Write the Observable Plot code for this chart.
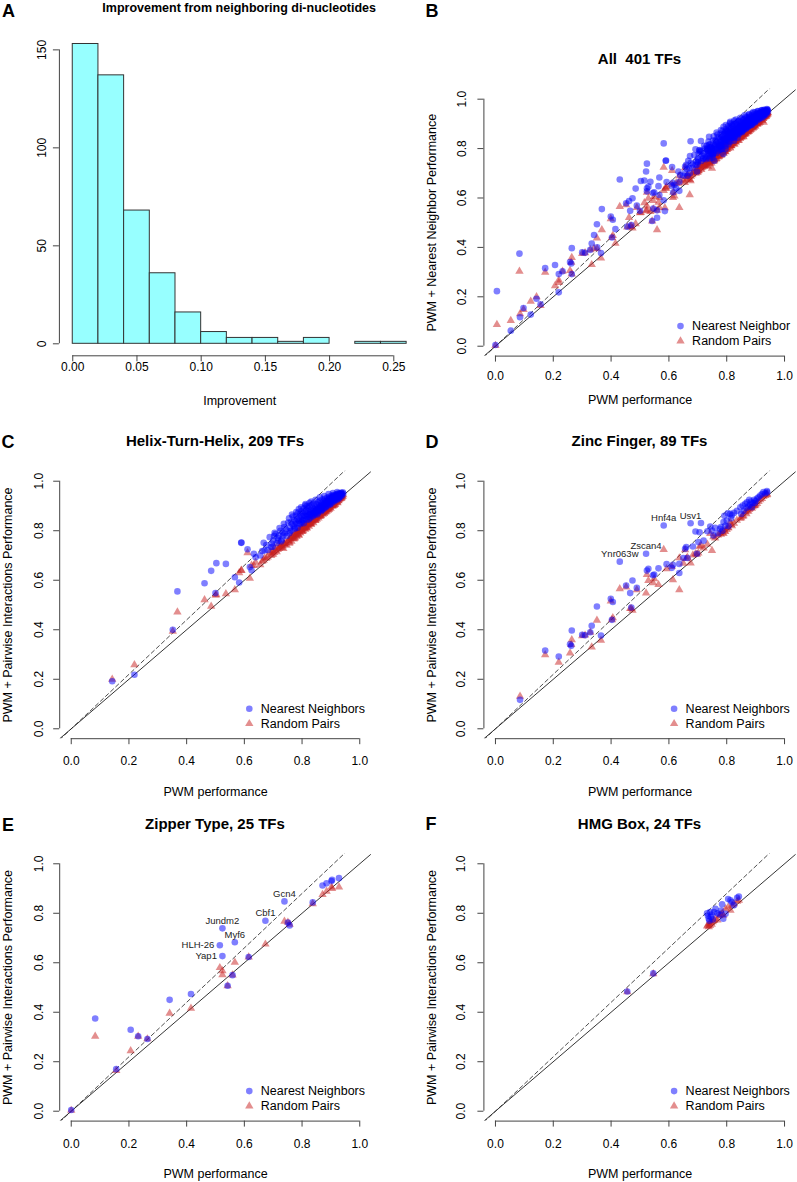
<!DOCTYPE html>
<html><head><meta charset="utf-8">
<script src="https://cdn.jsdelivr.net/npm/d3@7"></script>
<script src="https://cdn.jsdelivr.net/npm/@observablehq/plot@0.6"></script>
<style>
body{margin:0;background:#fff;}
#fig{position:relative;width:797px;height:1182px;overflow:hidden;background:#fff;font-family:"Liberation Sans",Arial,Helvetica,sans-serif;}
.panel{position:absolute;}
.lbl{position:absolute;transform:translate(-50%,-50%);white-space:pre;color:#000;font-weight:bold;line-height:normal;}
</style></head><body><div id="fig"></div>
<script>
// ---------- Panel A: histogram ----------
const histBreaks = [0,0.02,0.04,0.06,0.08,0.10,0.12,0.14,0.16,0.18,0.20,0.22,0.24,0.26];
const histCounts = [153,137,68,36,16,6,3,3,1,3,0,1,1];
const histXTicks = [0,0.05,0.10,0.15,0.20,0.25];
const histYTicks = [0,50,100,150];

// ---------- Scatter panels: [PWM, PWM + nearest neighbours, PWM + random pairs, label, labelPos] ----------
const axisRange = [0,1];
const xTicks = [0,0.2,0.4,0.6,0.8,1.0];
const yTicks = [0,0.2,0.4,0.6,0.8,1.0];
const dashSlope = 1.1;

const cPoints = [
[0.142,0.192,0.200],[0.219,0.218,0.258],[0.352,0.400,0.394],[0.368,0.555,0.471],[0.462,0.588,0.521],
[0.485,0.638,0.495],[0.503,0.669,0.541],[0.500,0.548,0.540],[0.536,0.666,0.545],[0.567,0.612,0.561],
[0.582,0.591,0.630],[0.589,0.751,0.639],[0.590,0.752,0.640],[0.611,0.725,0.711],[0.619,0.653,0.608],
[0.633,0.707,0.659],[0.639,0.693,0.672],[0.625,0.640,0.660],[0.667,0.751,0.680],[0.670,0.720,0.690],
[0.688,0.774,0.713],[0.693,0.734,0.700],[0.708,0.787,0.720],[0.700,0.760,0.705],[0.712,0.750,0.715],
[0.720,0.780,0.728],[0.725,0.800,0.735],[0.730,0.765,0.732],[0.737,0.828,0.748],[0.740,0.790,0.745],
[0.655,0.700,0.662],[0.662,0.718,0.676],[0.676,0.742,0.688],[0.681,0.722,0.694],[0.695,0.748,0.706],
[0.703,0.778,0.712],[0.716,0.771,0.724],[0.722,0.811,0.733],[0.728,0.757,0.741],[0.733,0.792,0.738],
[0.739,0.815,0.746],[0.698,0.735,0.718],[0.705,0.792,0.730],[0.718,0.760,0.745],[0.735,0.780,0.728],
[0.744,0.806,0.752],[0.747,0.779,0.741],[0.752,0.833,0.760],[0.756,0.790,0.749],[0.758,0.812,0.768],
[0.761,0.834,0.770],[0.763,0.801,0.757],[0.766,0.826,0.775],[0.768,0.857,0.779],[0.771,0.819,0.766],
[0.773,0.842,0.785],[0.775,0.808,0.772],[0.777,0.836,0.790],[0.779,0.861,0.781],[0.781,0.829,0.776],
[0.783,0.847,0.795],[0.784,0.812,0.787],[0.786,0.872,0.799],[0.788,0.840,0.783],[0.789,0.888,0.801],
[0.791,0.853,0.793],[0.793,0.826,0.806],[0.794,0.867,0.790],[0.796,0.845,0.812],[0.798,0.879,0.802],
[0.799,0.834,0.796],[0.801,0.858,0.815],[0.802,0.871,0.809],[0.804,0.842,0.800],[0.805,0.890,0.818],
[0.807,0.861,0.811],[0.808,0.848,0.823],[0.810,0.876,0.814],[0.811,0.903,0.806],[0.813,0.859,0.827],
[0.814,0.882,0.819],[0.816,0.845,0.812],[0.818,0.868,0.830],[0.819,0.893,0.821],[0.821,0.857,0.834],
[0.822,0.879,0.826],[0.824,0.864,0.818],[0.825,0.898,0.837],[0.827,0.872,0.829],[0.828,0.851,0.842],
[0.830,0.886,0.833],[0.831,0.869,0.826],[0.833,0.905,0.845],[0.834,0.877,0.838],[0.836,0.861,0.849],
[0.837,0.893,0.840],[0.839,0.880,0.832],[0.840,0.910,0.852],[0.842,0.871,0.845],[0.843,0.888,0.856],
[0.845,0.866,0.848],[0.846,0.899,0.841],[0.848,0.882,0.859],[0.849,0.875,0.852],[0.851,0.907,0.863],
[0.852,0.889,0.855],[0.854,0.872,0.867],[0.855,0.915,0.858],[0.857,0.893,0.851],[0.858,0.880,0.870],
[0.860,0.903,0.862],[0.861,0.921,0.874],[0.863,0.886,0.866],[0.864,0.898,0.859],[0.866,0.879,0.877],
[0.867,0.912,0.870],[0.869,0.894,0.881],[0.870,0.926,0.873],[0.872,0.901,0.866],[0.873,0.887,0.884],
[0.875,0.918,0.877],[0.876,0.905,0.870],[0.878,0.893,0.888],[0.879,0.929,0.881],[0.881,0.910,0.874],
[0.882,0.898,0.891],[0.884,0.921,0.885],[0.885,0.907,0.878],[0.887,0.933,0.895],[0.888,0.915,0.888],
[0.890,0.902,0.882],[0.891,0.926,0.899],[0.893,0.912,0.892],[0.894,0.937,0.886],[0.896,0.921,0.903],
[0.897,0.908,0.896],[0.899,0.931,0.890],[0.900,0.918,0.907],[0.902,0.941,0.900],[0.903,0.926,0.912],
[0.905,0.914,0.904],[0.906,0.935,0.898],[0.908,0.922,0.915],[0.909,0.944,0.909],[0.911,0.930,0.902],
[0.912,0.919,0.919],[0.914,0.939,0.912],[0.915,0.927,0.906],[0.917,0.946,0.922],[0.918,0.934,0.916],
[0.920,0.924,0.926],[0.921,0.943,0.919],[0.923,0.932,0.913],[0.924,0.949,0.929],[0.926,0.938,0.922],
[0.927,0.929,0.932],[0.929,0.947,0.926],[0.930,0.940,0.935],[0.932,0.951,0.929],[0.933,0.936,0.938],
[0.935,0.945,0.932],[0.936,0.953,0.940],[0.938,0.948,0.935],[0.939,0.942,0.943],[0.941,0.955,0.938],
[0.943,0.950,0.945],[0.806,0.830,0.812],[0.823,0.845,0.829],[0.838,0.858,0.843],[0.853,0.866,0.860],
[0.868,0.884,0.872],[0.883,0.895,0.886],[0.898,0.906,0.901],[0.913,0.925,0.917],[0.928,0.935,0.930],
[0.817,0.900,0.825],[0.832,0.918,0.836],[0.847,0.925,0.850],[0.862,0.935,0.864],[0.877,0.940,0.880],
[0.892,0.948,0.896],[0.907,0.952,0.911],[0.922,0.956,0.925],[0.797,0.895,0.805],[0.812,0.908,0.815],
[0.826,0.913,0.829],[0.780,0.875,0.786],[0.765,0.865,0.770],[0.755,0.850,0.762],[0.851,0.884,0.846],
[0.866,0.902,0.861],[0.881,0.917,0.878],[0.896,0.930,0.893],[0.911,0.941,0.907],[0.926,0.950,0.921],
[0.801,0.842,0.797],[0.816,0.856,0.811],[0.831,0.866,0.827],[0.846,0.879,0.842],[0.861,0.893,0.857],
[0.876,0.910,0.871],[0.891,0.921,0.887],[0.906,0.938,0.903],[0.921,0.944,0.916],[0.936,0.950,0.931],
[0.789,0.829,0.781],[0.774,0.813,0.768],[0.757,0.798,0.753]
];

const dPoints = [
[0.085,0.117,0.131],[0.172,0.316,0.299],[0.219,0.292,0.268],[0.258,0.341,0.306],[0.264,0.397,0.359],
[0.262,0.335,0.340],[0.310,0.378,0.378],[0.328,0.390,0.390],[0.333,0.416,0.330],[0.365,0.377,0.357],
[0.351,0.494,0.438],[0.399,0.525,0.516],[0.403,0.440,0.440],[0.406,0.512,0.448],[0.452,0.579,0.572],
[0.474,0.599,0.478],[0.466,0.548,0.485],[0.489,0.569,0.561],[0.430,0.675,0.565,"Ynr063w","top"],[0.524,0.639,0.623],
[0.529,0.646,0.599],[0.521,0.707,0.548,"Zscan4","top"],[0.549,0.623,0.606],[0.564,0.648,0.582],[0.582,0.821,0.724,"Hnf4a","top"],
[0.592,0.665,0.646],[0.614,0.662,0.602],[0.636,0.629,0.561],[0.636,0.666,0.690],[0.656,0.727,0.723],
[0.660,0.734,0.687],[0.664,0.690,0.693],[0.675,0.830,0.669,"Usv1","top"],[0.711,0.831,0.740],[0.692,0.797,0.707],
[0.706,0.794,0.736],[0.683,0.736,0.702],[0.702,0.754,0.710],[0.697,0.707,0.705],[0.749,0.801,0.720],
[0.743,0.817,0.788],[0.754,0.781,0.775],[0.777,0.808,0.790],[0.789,0.835,0.788],[0.800,0.841,0.805],
[0.812,0.868,0.835],[0.818,0.862,0.820],[0.795,0.820,0.796],[0.785,0.800,0.792],[0.806,0.818,0.812],
[0.847,0.895,0.850],[0.864,0.909,0.875],[0.870,0.915,0.880],[0.875,0.898,0.878],[0.880,0.905,0.889],
[0.868,0.892,0.868],[0.884,0.918,0.893],[0.890,0.912,0.896],[0.858,0.880,0.860],[0.895,0.925,0.900],
[0.900,0.920,0.905],[0.916,0.942,0.925],[0.927,0.956,0.938],[0.939,0.960,0.945],[0.922,0.948,0.930],
[0.933,0.951,0.942],[0.905,0.930,0.910],[0.878,0.925,0.885],[0.855,0.902,0.858],[0.835,0.880,0.842],
[0.825,0.872,0.830],[0.760,0.812,0.770],[0.770,0.790,0.782],[0.720,0.760,0.730],[0.733,0.798,0.745],
[0.650,0.690,0.668],[0.545,0.620,0.590],[0.610,0.650,0.655],[0.470,0.490,0.485],[0.300,0.380,0.375],
[0.804,0.870,0.812],[0.792,0.860,0.800],[0.887,0.895,0.890],[0.897,0.912,0.902],[0.910,0.935,0.918],
[0.940,0.955,0.948],[0.850,0.868,0.852],[0.815,0.850,0.825],[0.780,0.815,0.785]
];

const ePoints = [
[0.000,0.005,0.003],[0.083,0.375,0.303],[0.156,0.170,0.164],[0.206,0.329,0.244],[0.232,0.303,0.303],
[0.264,0.292,0.292],[0.341,0.450,0.396],[0.415,0.474,0.416],[0.515,0.671,0.580,"HLH-26","left"],[0.524,0.627,0.567,"Yap1","left"],
[0.524,0.739,0.551,"Jundm2","top"],[0.567,0.683,0.602,"Myf6","top"],[0.559,0.550,0.550],[0.542,0.507,0.507],[0.615,0.623,0.623],
[0.673,0.770,0.675,"Cbf1","top"],[0.739,0.848,0.767,"Gcn4","top"],[0.751,0.763,0.763],[0.757,0.751,0.755],[0.837,0.844,0.838],
[0.871,0.912,0.876],[0.885,0.921,0.889],[0.902,0.930,0.906],[0.904,0.935,0.900],[0.928,0.942,0.906]
];

const fPoints = [
[0.456,0.484,0.482],[0.546,0.557,0.555],[0.732,0.800,0.748],[0.735,0.790,0.752],[0.738,0.778,0.745],
[0.740,0.770,0.758],[0.742,0.805,0.750],[0.745,0.785,0.762],[0.748,0.795,0.755],[0.752,0.775,0.765],
[0.756,0.805,0.770],[0.761,0.818,0.778],[0.768,0.800,0.772],[0.775,0.795,0.790],[0.780,0.811,0.795],
[0.784,0.836,0.800],[0.788,0.778,0.792],[0.796,0.798,0.818],[0.805,0.858,0.825],[0.813,0.852,0.812],
[0.818,0.845,0.832],[0.825,0.832,0.838],[0.836,0.863,0.848],[0.842,0.868,0.852]
];

// TFs of other families (only in panel B)
const otherPoints = [
[0.005,0.223,0.088],[0.053,0.063,0.104],[0.097,0.155,0.148],[0.122,0.128,0.182],[0.586,0.547,0.560],
[0.559,0.520,0.471],[0.672,0.700,0.613],[0.700,0.745,0.712],[0.712,0.790,0.722],[0.724,0.768,0.731],
[0.731,0.812,0.744],[0.746,0.803,0.755],[0.752,0.778,0.748],[0.762,0.829,0.771],[0.769,0.846,0.778],
[0.777,0.815,0.783],[0.784,0.856,0.792],[0.792,0.838,0.789],[0.798,0.872,0.806],[0.803,0.851,0.812],
[0.809,0.884,0.815],[0.815,0.862,0.823],[0.821,0.893,0.829],[0.826,0.871,0.833],[0.832,0.900,0.840],
[0.838,0.877,0.846],[0.843,0.912,0.851],[0.849,0.889,0.857],[0.855,0.920,0.862],[0.861,0.896,0.866],
[0.866,0.929,0.873],[0.872,0.905,0.879],[0.877,0.936,0.884],[0.883,0.914,0.890],[0.888,0.943,0.893],
[0.893,0.921,0.899],[0.898,0.947,0.904],[0.904,0.928,0.909],[0.909,0.951,0.915],[0.914,0.935,0.919],
[0.919,0.954,0.923],[0.925,0.941,0.929],[0.931,0.957,0.935],[0.936,0.947,0.939],[0.941,0.958,0.944],
[0.873,0.889,0.869],[0.858,0.874,0.848],[0.842,0.858,0.833],[0.827,0.845,0.818],[0.812,0.828,0.802],
[0.796,0.811,0.787],[0.781,0.797,0.773],[0.765,0.782,0.760],[0.742,0.760,0.738]
];

const allPoints = [...cPoints, ...dPoints, ...ePoints, ...fPoints, ...otherPoints];

// ---------- styling ----------
const FONT = '"Liberation Sans", Arial, Helvetica, sans-serif';
const axisColor = "#444";
const nnColor = "#0000ff";
const rpColor = "#c81e1e";
const histFill = "#97FFFF";
const fig = document.getElementById("fig");

function pad4([lo, hi]) { const d = (hi - lo) * 0.04; return [lo - d, hi + d]; }

function place(svg, left, top, width) {
  const div = document.createElement("div");
  div.className = "panel";
  div.style.left = left + "px"; div.style.top = top + "px"; div.style.width = width + "px";
  div.appendChild(svg);
  fig.appendChild(div);
}
function addText(text, x, y, size, bold = true) {
  const el = document.createElement("div");
  el.className = "lbl";
  el.textContent = text;
  el.style.left = x + "px"; el.style.top = y + "px";
  el.style.fontSize = size + "px";
  el.style.fontWeight = bold ? "bold" : "normal";
  fig.appendChild(el);
}
const C = {textAnchor: "middle", lineAnchor: "middle"};

// ---------- Panel A ----------
{
  const W = 430, H = 420, mL = 58.9, mR = 10.5, mT = 31.5, mB = 64.7;
  const domX = pad4([histBreaks[0], histBreaks[histBreaks.length - 1]]);
  const domY = pad4([0, d3.max(histCounts)]);
  const bins = histCounts.map((c, i) => ({x1: histBreaks[i], x2: histBreaks[i + 1], y1: 0, y2: c}));
  const svg = Plot.plot({
    width: W, height: H, marginLeft: mL, marginRight: mR, marginTop: mT, marginBottom: mB,
    style: {fontFamily: FONT, background: "transparent", overflow: "visible"},
    x: {domain: domX}, y: {domain: domY},
    marks: [
      Plot.rect(bins, {x1: "x1", x2: "x2", y1: "y1", y2: "y2", fill: histFill, stroke: "#333", strokeWidth: 1}),
      Plot.ruleY([domY[0]], {x1: histXTicks[0], x2: histXTicks[histXTicks.length - 1], stroke: axisColor}),
      Plot.ruleX([domX[0]], {y1: histYTicks[0], y2: histYTicks[histYTicks.length - 1], stroke: axisColor}),
      Plot.axisX(histXTicks, {tickSize: 6, fill: "none", stroke: axisColor, label: null}),
      Plot.axisY(histYTicks, {tickSize: 6, fill: "none", stroke: axisColor, label: null}),
      Plot.text(histXTicks, {...C, x: d => d, frameAnchor: "bottom", dy: 11.4, text: d3.format(".2f"), fontSize: 12}),
      Plot.text(histYTicks, {...C, y: d => d, frameAnchor: "left", dx: -17.5, rotate: -90, text: d => String(d), fontSize: 12}),
      Plot.text(["Improvement"], {...C, frameAnchor: "bottom", dy: 45.4, text: d => d, fontSize: 12.5})
    ]
  });
  place(svg, 0, 0, W);
  addText("A", 8.5, 11, 18);
  addText("Improvement from neighboring di-nucleotides", 0 + (mL + W - mR) / 2, 7.5, 12.5);
}

// ---------- scatter panels ----------
function scatter(cfg) {
  const dom = pad4(axisRange);
  const fmt = d3.format(".1f");
  const nnData = cfg.points.map(p => ({x: p[0], y: p[1]}));
  const rpData = cfg.points.map(p => ({x: p[0], y: p[2]}));
  const solid = dom.map(x => ({x, y: x}));
  const dashed = dom.map(x => ({x, y: dashSlope * x}));
  const labelled = cfg.showLabels ? cfg.points.filter(p => p[3]) : [];
  const lblTop = labelled.filter(p => p[4] === "top");
  const lblLeft = labelled.filter(p => p[4] === "left");
  const svg = Plot.plot({
    width: cfg.W, height: cfg.H, marginLeft: cfg.mL, marginRight: cfg.mR, marginTop: cfg.mT, marginBottom: cfg.mB,
    style: {fontFamily: FONT, background: "transparent", overflow: "visible"},
    x: {domain: dom}, y: {domain: dom},
    marks: [
      Plot.ruleY([dom[0]], {x1: xTicks[0], x2: xTicks[xTicks.length - 1], stroke: axisColor}),
      Plot.ruleX([dom[0]], {y1: yTicks[0], y2: yTicks[yTicks.length - 1], stroke: axisColor}),
      Plot.axisX(xTicks, {tickSize: 6, fill: "none", stroke: axisColor, label: null}),
      Plot.axisY(yTicks, {tickSize: 6, fill: "none", stroke: axisColor, label: null}),
      Plot.text(xTicks, {...C, x: d => d, frameAnchor: "bottom", dy: cfg.xTickDy, text: fmt, fontSize: 12}),
      Plot.text(yTicks, {...C, y: d => d, frameAnchor: "left", dx: cfg.yTickDx, rotate: -90, text: fmt, fontSize: 12}),
      Plot.text(["PWM performance"], {...C, frameAnchor: "bottom", dy: cfg.xLabDy, text: d => d, fontSize: 12.5}),
      Plot.text([cfg.ylabel], {...C, frameAnchor: "left", dx: -52, rotate: -90, text: d => d, fontSize: 12.5}),
      Plot.line(solid, {x: "x", y: "y", stroke: "#000", strokeWidth: 0.8, clip: true}),
      Plot.line(dashed, {x: "x", y: "y", stroke: "#222", strokeWidth: 0.8, strokeDasharray: "4,3", clip: true}),
      Plot.dot(rpData, {x: "x", y: "y", r: 3.1, symbol: "triangle", fill: rpColor, fillOpacity: 0.5}),
      Plot.dot(nnData, {x: "x", y: "y", r: 3.3, fill: nnColor, fillOpacity: 0.5}),
      Plot.text(lblTop, {...C, x: p => p[0], y: p => p[1], text: p => p[3], dy: -7.5, fontSize: 9.5, fill: "#222"}),
      Plot.text(lblLeft, {x: p => p[0], y: p => p[1], text: p => p[3], dx: -5.5, textAnchor: "end", lineAnchor: "middle", fontSize: 9.5, fill: "#222"}),
      Plot.dot([cfg.legendNN], {frameAnchor: "bottom-right", dx: cfg.legSymDx, dy: -30, r: 3.3, fill: nnColor, fillOpacity: 0.5}),
      Plot.dot(["Random Pairs"], {frameAnchor: "bottom-right", dx: cfg.legSymDx, dy: -15, r: 3.1, symbol: "triangle", fill: rpColor, fillOpacity: 0.5}),
      Plot.text([cfg.legendNN], {frameAnchor: "bottom-right", dx: cfg.legTxtDx, dy: -30, text: d => d, textAnchor: "start", lineAnchor: "middle", fontSize: 12.5}),
      Plot.text(["Random Pairs"], {frameAnchor: "bottom-right", dx: cfg.legTxtDx, dy: -15, text: d => d, textAnchor: "start", lineAnchor: "middle", fontSize: 12.5})
    ]
  });
  place(svg, cfg.left, cfg.top, cfg.W);
  const cx = cfg.left + (cfg.mL + cfg.W - cfg.mR) / 2;
  addText(cfg.title, cx, cfg.top + cfg.mT - 30.5, 15);
  addText(cfg.letter, cfg.letterX, cfg.letterY, 18);
}

const leftCol = {left: 0, W: 400, mL: 59.2, mR: 29.2, yTickDx: -21};
const rightCol = {left: 400, W: 397, mL: 83.4, mR: 1.4, yTickDx: -22.5};
const pairY = "PWM + Pairwise Interactions Performance";
const common = {xTickDy: 22.8, xLabDy: 53, legendNN: "Nearest Neighbors", legSymDx: -122, legTxtDx: -110.5, ylabel: pairY, showLabels: true};

scatter({...rightCol, top: 0, H: 390, mT: 88.8, mB: 34.4, xTickDy: 19.7, xLabDy: 43.7,
  yTickDx: -22, points: allPoints, ylabel: "PWM + Nearest Neighbor Performance",
  legendNN: "Nearest Neighbor", legSymDx: -115.6, legTxtDx: -104, showLabels: false,
  title: "All  401 TFs", letter: "B", letterX: 432, letterY: 11});
scatter({...common, ...leftCol, top: 390, H: 400, mT: 80.8, mB: 51.8, points: cPoints,
  title: "Helix-Turn-Helix, 209 TFs", letter: "C", letterX: 8, letterY: 442});
scatter({...common, ...rightCol, top: 390, H: 400, mT: 80.8, mB: 51.8, points: dPoints,
  title: "Zinc Finger, 89 TFs", letter: "D", letterX: 432, letterY: 442});
scatter({...common, ...leftCol, top: 790, H: 392, mT: 63.4, mB: 61.4, points: ePoints,
  title: "Zipper Type, 25 TFs", letter: "E", letterX: 8, letterY: 825});
scatter({...common, ...rightCol, top: 790, H: 392, mT: 63.4, mB: 61.4, points: fPoints,
  title: "HMG Box, 24 TFs", letter: "F", letterX: 431, letterY: 824});
</script></body></html>
